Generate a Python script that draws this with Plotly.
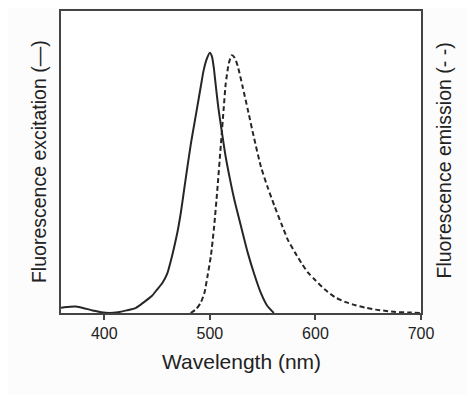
import plotly.graph_objects as go

# Excitation spectrum (solid)
exc_wl = [359, 362, 373, 389, 397, 405, 413, 421, 430, 437, 445, 450, 455, 459.5, 463, 466, 469.5, 472.5, 475.5, 478.7, 482, 485, 488, 491.4, 494, 497, 500, 502, 503.8, 505.7, 508, 510.5, 515, 519, 523.2, 530, 536, 542, 548.5, 554, 560.6]
exc_val = [0.02, 0.022, 0.025, 0.01, 0.003, 0.0, 0.003, 0.01, 0.02, 0.04, 0.065, 0.09, 0.115, 0.15, 0.2, 0.25, 0.315, 0.385, 0.47, 0.56, 0.65, 0.72, 0.79, 0.87, 0.93, 0.975, 1.0, 0.985, 0.94, 0.87, 0.79, 0.72, 0.6, 0.515, 0.435, 0.325, 0.23, 0.15, 0.075, 0.03, 0.0]

# Emission spectrum (dashed)
em_wl = [481.8, 487, 491.4, 495, 497.7, 501, 504, 507, 510.5, 513, 515, 518, 520.9, 523.5, 526.3, 531, 536, 542, 548.5, 555, 561.3, 568, 574, 581, 587, 593, 599.7, 609, 618.8, 628, 638, 648, 657, 667, 676, 688, 700]
em_val = [0.0, 0.015, 0.04, 0.08, 0.14, 0.22, 0.33, 0.47, 0.65, 0.78, 0.88, 0.96, 0.99, 0.98, 0.95, 0.87, 0.78, 0.67, 0.56, 0.48, 0.41, 0.34, 0.28, 0.23, 0.19, 0.155, 0.127, 0.09, 0.06, 0.043, 0.03, 0.02, 0.013, 0.008, 0.004, 0.002, 0.0]

x_ticks = [400, 500, 600, 700]

line_col = "#262626"
text_col = "#222222"
font_fam = "Liberation Sans, Arial, sans-serif"

fig = go.Figure()
fig.add_trace(go.Scatter(x=exc_wl, y=exc_val, mode="lines",
                         line=dict(color=line_col, width=2, shape="spline", smoothing=0.6),
                         showlegend=False, hoverinfo="skip"))
fig.add_trace(go.Scatter(x=em_wl, y=em_val, mode="lines",
                         line=dict(color=line_col, width=2, dash="5px,3px", shape="spline", smoothing=0.6),
                         showlegend=False, hoverinfo="skip"))

fig.update_layout(
    width=467, height=386,
    margin=dict(l=53, r=54, t=3, b=81, autoexpand=False),
    paper_bgcolor="#fcfcfc", plot_bgcolor="#ffffff",
    font=dict(family=font_fam, color=text_col),
    xaxis=dict(range=[359, 700], tickvals=x_ticks, ticktext=[str(v) for v in x_ticks],
               ticks="outside", ticklen=5, tickwidth=1.5, tickcolor="#444",
               showgrid=False, zeroline=False, showline=True, linecolor="#444", linewidth=2,
               mirror=True, tickfont=dict(size=16, color=text_col), automargin=False),
    yaxis=dict(range=[0, 1.16], showticklabels=False, ticks="", showgrid=False, zeroline=False,
               showline=True, linecolor="#444", linewidth=2, mirror=True, automargin=False),
    annotations=[
        dict(text="Wavelength (nm)", xref="paper", yref="paper", x=0.5, y=-0.162, yanchor="middle",
             showarrow=False, font=dict(size=21, color=text_col)),
        dict(text="Fluorescence excitation (—)", xref="paper", yref="paper", x=-0.061, xanchor="center",
             y=0.5, yanchor="middle", textangle=-90, showarrow=False, font=dict(size=19.5, color=text_col)),
        dict(text="Fluorescence emission (- -)", xref="paper", yref="paper", x=1.064, xanchor="center",
             y=0.505, yanchor="middle", textangle=-90, showarrow=False, font=dict(size=19.5, color=text_col)),
    ],
)

fig.write_html("out.html")
